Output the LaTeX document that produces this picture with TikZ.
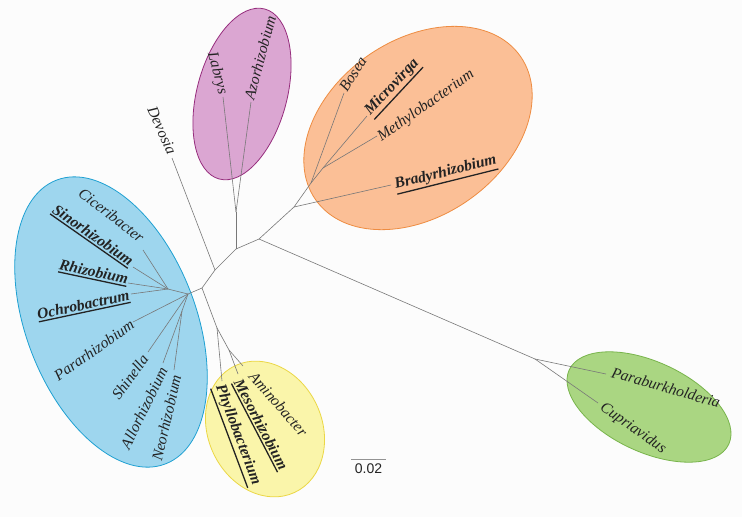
\documentclass[tikz,border=0pt]{standalone}
\usepackage{fontspec}
\setmainfont{Liberation Serif}
\setsansfont{Liberation Sans}
\definecolor{bgcol}{RGB}{252,252,252}
\definecolor{branchgray}{RGB}{120,120,120}
\definecolor{labelcol}{RGB}{35,35,35}
\definecolor{bluefill}{RGB}{158,214,238}
\definecolor{blueline}{RGB}{30,160,210}
\definecolor{purplefill}{RGB}{219,166,210}
\definecolor{purpleline}{RGB}{150,45,125}
\definecolor{orangefill}{RGB}{251,191,150}
\definecolor{orangeline}{RGB}{238,140,65}
\definecolor{yellowfill}{RGB}{250,245,170}
\definecolor{yellowline}{RGB}{235,215,70}
\definecolor{greenfill}{RGB}{170,214,130}
\definecolor{greenline}{RGB}{120,180,75}
\newcommand\boldul[1]{\leavevmode\vtop{\hbox{\bfseries #1}\kern1.5pt\hrule height 1.3pt}}
\begin{document}
\begin{tikzpicture}[x=1pt,y=-1pt,
  branch/.style={draw=branchgray, line width=0.6pt},
  leaf/.style={font=\fontsize{15.5}{17}\selectfont\itshape, text=labelcol, inner sep=0pt, anchor=center},
  cluster/.style={line width=0.8pt}]
\useasboundingbox[fill=bgcol] (0,0) rectangle (742,517);

% clusters
\path[cluster, fill=bluefill, draw=blueline, rotate around={-69:(111,322)}] (111,322) ellipse [x radius=152pt, y radius=85pt];
\path[cluster, fill=purplefill, draw=purpleline, rotate around={75:(242,94)}] (242,94) ellipse [x radius=88pt, y radius=45pt];
\path[cluster, fill=orangefill, draw=orangeline, rotate around={35:(418,128)}] (418,128) ellipse [x radius=125pt, y radius=88pt];
\path[cluster, fill=yellowfill, draw=yellowline, rotate around={-65:(265,429)}] (265,429) ellipse [x radius=70pt, y radius=57pt];
\path[cluster, fill=greenfill, draw=greenline, rotate around={-25:(649,407)}] (649,407) ellipse [x radius=88pt, y radius=45pt];

% internal nodes
\coordinate (hubB) at (188,294);
\coordinate (subB1) at (168,289);
\coordinate (subB2) at (182,311);
\coordinate (r1) at (202,288);
\coordinate (y1) at (217,328);
\coordinate (y2) at (229,350);
\coordinate (d1) at (215,270);
\coordinate (p0) at (236,249);
\coordinate (p1) at (236,212);
\coordinate (o0) at (259,239);
\coordinate (o1) at (294,207);
\coordinate (o2) at (311,183);
\coordinate (o3) at (323,168);
\coordinate (g1) at (535,359);

% leaf ends
\coordinate (cic) at (143,250);
\coordinate (sin) at (133,267);
\coordinate (rhi) at (128,283);
\coordinate (och) at (131,294);
\coordinate (par) at (133,322);
\coordinate (shi) at (148,352);
\coordinate (all) at (163,363);
\coordinate (neo) at (174,370);
\coordinate (phy) at (222,381);
\coordinate (mes) at (238,374);
\coordinate (ami) at (243,366);
\coordinate (dev) at (172,158);
\coordinate (lab) at (223,97);
\coordinate (azo) at (251,102);
\coordinate (bos) at (344,93);
\coordinate (mic) at (367,116);
\coordinate (met) at (377,136);
\coordinate (bra) at (391,185);
\coordinate (pab) at (606,374);
\coordinate (cup) at (598,403);

% branches
\draw[branch] (hubB) -- (r1);
\draw[branch] (hubB) -- (subB1);
\draw[branch] (subB1) -- (cic);
\draw[branch] (subB1) -- (sin);
\draw[branch] (subB1) -- (rhi);
\draw[branch] (subB1) -- (och);
\draw[branch] (hubB) -- (par);
\draw[branch] (hubB) -- (shi);
\draw[branch] (hubB) -- (subB2);
\draw[branch] (subB2) -- (all);
\draw[branch] (subB2) -- (neo);
\draw[branch] (r1) -- (y1);
\draw[branch] (y1) -- (phy);
\draw[branch] (y1) -- (y2);
\draw[branch] (y2) -- (mes);
\draw[branch] (y2) -- (ami);
\draw[branch] (r1) -- (d1);
\draw[branch] (d1) -- (dev);
\draw[branch] (d1) -- (p0);
\draw[branch] (p0) -- (p1);
\draw[branch] (p1) -- (lab);
\draw[branch] (p1) -- (azo);
\draw[branch] (p0) -- (o0);
\draw[branch] (o0) -- (o1);
\draw[branch] (o1) -- (bra);
\draw[branch] (o1) -- (o2);
\draw[branch] (o2) -- (bos);
\draw[branch] (o2) -- (o3);
\draw[branch] (o3) -- (mic);
\draw[branch] (o3) -- (met);
\draw[branch] (o0) -- (g1);
\draw[branch] (g1) -- (pab);
\draw[branch] (g1) -- (cup);

% labels
\node[leaf, rotate=-38] (cicL) at (111.5,215) {Ciceribacter};
\node[leaf, rotate=-35] (sinL) at (92.5,236) {\boldul{Sinorhizobium}};
\node[leaf, rotate=-12] (rhiL) at (93.5,273) {\boldul{Rhizobium}};
\node[leaf, rotate=12] (ochL) at (83.5,306) {\boldul{Ochrobactrum}};
\node[leaf, rotate=35] (parL) at (94,350) {Pararhizobium};
\node[leaf, rotate=54] (shiL) at (130,377) {Shinella};
\node[leaf, rotate=64] (allL) at (144,408) {Allorhizobium};
\node[leaf, rotate=77] (neoL) at (166.5,418) {Neorhizobium};
\node[leaf, rotate=-69.5] (phyL) at (236.5,435.5) {\boldul{Phyllobacterium}};
\node[leaf, rotate=-62.5] (mesL) at (260,425) {\boldul{Mesorhizobium}};
\node[leaf, rotate=-49] (amiL) at (278.5,404) {Aminobacter};
\node[leaf, rotate=-66] (devL) at (162,130.5) {Devosia};
\node[leaf, rotate=-75] (labL) at (217,73.5) {Labrys};
\node[leaf, rotate=75] (azoL) at (260,57.5) {Azorhizobium};
\node[leaf, rotate=58] (bosL) at (353,74) {Bosea};
\node[leaf, rotate=47] (micL) at (393,88) {\boldul{Microvirga}};
\node[leaf, rotate=35] (metL) at (426,106) {Methylobacterium};
\node[leaf, rotate=14] (braL) at (446,174) {\boldul{Bradyrhizobium}};
\node[leaf, rotate=-16] (pabL) at (666,387.5) {Paraburkholderia};
\node[leaf, rotate=-35] (cupL) at (633,428.5) {Cupriavidus};

% scale bar
\coordinate (sbA) at (351,459);
\coordinate (sbB) at (386,459);
\draw[draw=branchgray!80, line width=0.8pt] (sbA) -- (sbB);
\node[font=\sffamily\fontsize{14}{16}\selectfont, text=labelcol, anchor=north, inner sep=0pt] (sbL) at (368.5,464) {0.02};
\end{tikzpicture}
\end{document}
